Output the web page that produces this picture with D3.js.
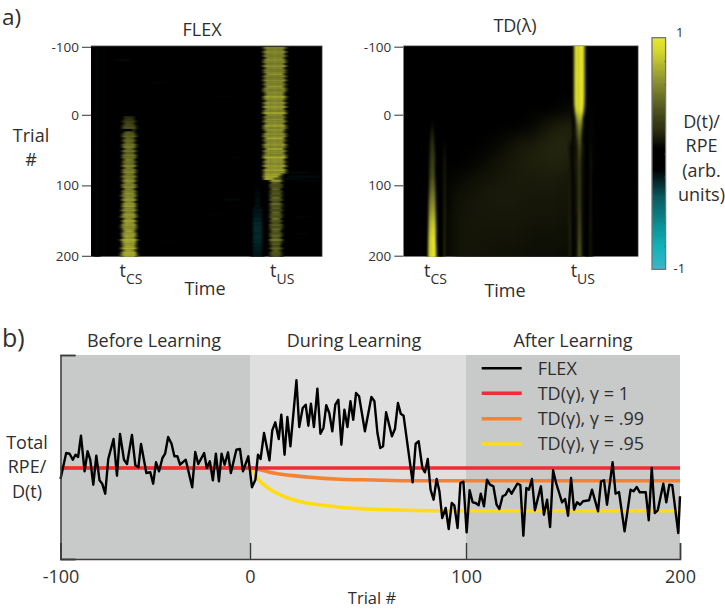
<!DOCTYPE html>
<html><head><meta charset="utf-8">
<script src="https://cdn.jsdelivr.net/npm/d3@7"></script>
<style>
html,body{margin:0;padding:0;background:#fff}
svg{display:block}
text{font-family:"Open Sans","Noto Sans",sans-serif;fill:#2f2e2e}
</style></head><body><svg id="c" width="725" height="611"></svg>
<script>
// ---------- panel b: total RPE traces ----------
const flexTrials=[-100,-97,-95.2,-93.5,-92.1,-90.7,-89.2,-87.3,-85.7,-84.3,-82.7,-81.1,-79.4,-78,-76.4,-74.8,-72,-70.2,-68.6,-66.5,-64.9,-62.3,-60.5,-58.9,-57.5,-54.7,-52.6,-51.1,-49.6,-48,-46.2,-44.8,-43.2,-41.4,-39.9,-38.3,-36.9,-33.9,-30.5,-28.9,-27.3,-24.2,-22.8,-21.2,-19.6,-18,-16.4,-15,-13.4,-11.6,-10.1,-7.2,-5.3,-3.7,-0.9,
0.9,2.5,3.7,4.9,6.5,9,10.3,11.7,13.3,14.5,16,17.3,18.7,21.5,22.8,24.4,25.8,27,28.2,29.6,31.2,32.6,34,35.3,36.7,38.1,39.5,40.9,42.3,43.7,45.1,46.5,47.8,49.1,50.5,53.2,56.2,57.6,59,60.3,61.6,63,65.7,67.1,68.5,69.8,71.1,75.3,76.7,78.1,79.8,81,82.3,83.6,85,86.4,87.7,89,90.6,92,93.4,94.6,96.1,97.4,98.8,100.3,101.7,103.1,104.5,105.9,
106.9,108.4,109.8,111.2,112.8,114.3,115.6,117.1,118.5,119.9,121.3,124,125.4,126.8,128.2,129.4,130.8,132.2,135,136.4,137.9,139.3,140.7,142.1,144.9,146.3,147.7,149.1,150.5,151.9,153.3,154.7,157.5,158.9,161.7,163.1,164.5,165.9,168.5,169.9,171.5,174.1,176.9,178.3,179.8,181.2,184,185.4,186.8,188.2,189.6,192.2,193.6,195,196.4,199.2,200];
const flexValues=[-11,15,14.3,8.3,13.3,11,32.3,-3.3,16.7,8.3,-16.7,12.3,-12.3,-15.7,-25.7,9,29,-7.7,34,8.3,4,33,2.7,0.7,24,-5,-4.3,-15.7,5.7,-3.3,10,14.3,31,24.3,11.7,11.7,3.3,8.3,-19.3,16,4,15,0,6.7,-12.3,14.3,-13.3,14.3,3.3,15.7,-5,18.3,19,-3.3,11.7,
-19.3,-11.7,13.3,9,35,7.7,37.7,45.7,29,53.3,13.3,51,21.7,87.7,41,60,63.3,42.3,64.3,41,79.3,34.3,40,62.7,55,36.7,63.3,68.3,23.3,58.3,41,66.7,48.3,75,71.7,36.7,71,66.7,35,20,21.7,55.7,31.7,39,65,54.3,52.3,-14.3,24.3,26.7,0,-4.3,9,-21.7,-31.7,-11,-23.3,-50,-40,-61,-35,-37.3,-60,-15,-13.7,-64.3,-22.3,-34.3,-35,-37.3,
-25.7,-38.3,-11.7,-16.7,-18.3,-36.7,-41,-28.3,-26.7,-21,-25.7,-15.7,-17,-67.7,-20,-21.7,-11,-42.3,-18.3,-46.7,-31.7,-59,-2.3,-15,-34.3,-31,-47.7,-10,-41.7,-34.3,-36.7,-33.3,-32.3,-21.7,-43.3,-13.3,-12.3,-36.7,5.7,-25.7,-24,-63.3,-21.7,-23.3,-19,-24.3,-24.3,-52.3,0,-45,-42.3,-15.7,-34.3,-16.7,-17.3,-65,-28.3];
const redTrials=[-100,200], redValues=[0,0];
const orangeTrials=[-100,0,10.8,26.2,41.7,57.1,72.5,200], orangeValues=[0,0,-5,-9,-11.3,-12,-12.7,-12.7];
const yellowTrials=[-100,0,4.6,10.8,18.5,26.2,34,41.7,57.1,72.5,88,200], yellowValues=[0,0,-13.3,-23.3,-30.7,-35,-37.3,-39.3,-41.3,-42.3,-42.7,-42.7];
const phaseNames=["Before Learning","During Learning","After Learning"];
const phaseBounds=[[-100,0],[0,100],[100,200]];
const legendLabels=["FLEX","TD(γ), γ = 1","TD(γ), γ = .99","TD(γ), γ = .95"];
const legendColors=["#000000","#ee2d37","#f58233","#ffdc14"];
const trialTicks=[-100,0,100,200];

// ---------- panel a, FLEX heat map: one value per row (3 trial steps) ----------
const flexRows=d3.range(-100,201,3);
const usAmp=[.58,.56,.6,.58,.55,.58,.62,.58,.56,.65,.6,.57,.6,.67,.58,.56,.63,.6,.58,.67,.6,.56,.62,.58,.7,.62,.58,.64,.6,.67,.62,.58,.72,.62,.58,.64,.62,.6,.69,.58,.64,.6,.65,.62,.74,.6,.62,.65,.58,.69,.62,.64,.6,.76,.64,.65,.6,.67,.64,.72,.64,.67,.69,.76,.67,
.42,.36,.38,.46,.36,.42,.34,.46,.4,.36,.48,.38,.42,.36,.46,.42,.38,.5,.4,.36,.44,.38,.48,.42,.38,.46,.4,.52,.38,.42,.36,.46,.44,.4,.38,.36];
const usCutTrials=[83,86,89], usCutCenter=[78.6,77.8,77], usCutHalf=[4.7,3.9,3];
const csRows=d3.range(2,201,3);
const csAmp=[.2,.26,.3,.34,.34,.38,.38,.42,.42,.46,.44,.5,.46,.5,.54,.48,.52,.46,.54,.5,.56,.52,.5,.58,.54,.56,.62,.54,.58,.56,.64,.58,.56,.62,.6,.58,.66,.6,.62,.66,.6,.64,.68,.62,.66,.6,.68,.64,.62,.7,.66,.68,.64,.68,.72,.66,.7,.66,.74,.7,.68,.72,.76,.7,.74,.72,.72];
const dipRows=d3.range(98,201,3);
const dipAmp=[.13,.14,.15,.15,.17,.16,.17,.18,.17,.17,.19,.17,.19,.19,.2,.2,.22,.21,.24,.23,.25,.25,.25,.23,.24,.25,.23,.24,.22,.22,.21,.21,.19,.19,.19];
const rowJitter=[.2,-.3,.5,-.1,.3,-.5,.1,.4,-.2,.6,-.4,.2,.1,-.6,.4,-.1,.5,-.3,.2,-.5,.3,.6,-.2,-.4,.4,.1,-.6,.3,-.1,.5,-.3,.2,.6,-.5,.1,-.2,.4,-.4,.3,.5,-.1,-.5,.2,.6,-.3,.1,-.4,.5,.2,-.6,.3,-.2,.4,.6,-.4,.1,-.1,.5,-.5,.3,.2,-.3,.6,-.2,.1,
-.4,.5,.3,-.6,.2,-.1,.6,-.3,.4,-.5,.1,.3,-.2,.5,-.4,.2,.6,-.6,.1,-.3,.4,.5,-.2,-.5,.3,.1,-.4,.6,.2,-.1,-.3,.4,-.6,.3,.5,-.2];
const flexStreakTrial=[80,86,89,92,119,128,143,167,179,-82,-49,-28,20,59,140];
const flexStreakFrom=[86,85,84,88,58,60,88,88,30,11,26,54,12,60,50];
const flexStreakTo=[94,98,92,98,64,66,95,94,38,16,32,60,18,66,56];
const flexStreakValue=[-.15,-.16,-.15,-.14,-.15,-.14,-.14,-.14,-.14,-.15,-.14,-.14,-.14,-.14,-.14];

// ---------- panel a, TD(lambda) heat map: one value per row (10 trial steps) ----------
const tdRows=d3.range(-110,220,10);
const tdUsAmp=[1,1,1,1,1,1,1,1,1,1,.98,.78,.62,.52,.44,.38,.34,.32,.3,.3,.3,.3,.3,.31,.32,.34,.35,.36,.38,.4,.41,.42,.42];
const tdUsHalf=[2,2,2,2,2,2,2,2,2,1.9,1.6,1.2,.95,.8,.7,.6,.55,.5,.5,.5,.5,.5,.5,.5,.5,.52,.55,.55,.55,.58,.6,.6,.6];
const tdCsAmp=[0,0,0,0,0,0,0,0,0,0,0,.04,.1,.16,.2,.24,.27,.3,.33,.36,.42,.48,.56,.62,.7,.78,.86,.92,1,1,1,1,1];
const tdCsHalf=[1,1,1,1,1,1,1,1,1,1,1,.4,.5,.6,.7,.8,.9,.95,1,1.05,1.1,1.15,1.2,1.25,1.3,1.35,1.4,1.45,1.5,1.55,1.6,1.6,1.6];
const tdSideAmp=[0,0,0,0,0,0,0,0,0,0,0,0,0,0,0,.1,.12,.14,.15,.16,.16,.17,.17,.18,.18,.18,.19,.19,.2,.2,.2,.2,.2];
const tdCsCenter=12.3, tdUsCenter=74.9, tdSideCenters=[70.9,79.7,17.5];
const washTrials=[-20,5,30,55,80,105,130,155,180,205];
const washTimes=[20,28,36,44,52,60,68];
const washValues=[
[0,0,0,0,0,0,.08],
[0,0,0,0,.08,.15,.17],
[0,0,.07,.12,.15,.18,.17],
[.02,.07,.11,.14,.16,.17,.16],
[.08,.11,.13,.14,.14,.14,.13],
[.11,.13,.14,.14,.13,.13,.12],
[.12,.13,.13,.13,.12,.12,.11],
[.12,.12,.12,.12,.11,.11,.1],
[.12,.12,.11,.11,.1,.1,.09],
[.12,.11,.11,.1,.09,.08,.07]];
const heatTicks=[-100,0,100,200];
const colorStops=[-1,-.93,-.8,-.66,-.37,-.13,.05,.2,.34,.63,.89,1];
const colorValues=["#4cb6cd","#2cb4c4","#12b3b8","#0a9a9f","#0a5a60","#000000","#000000","#2a2c10","#45481a","#8c9030","#d4d62e","#e8e62c"];

// ---------- drawing ----------
const svg=d3.select("#c");
const color=d3.scaleLinear().domain(colorStops).range(colorValues).clamp(true);
const defs=svg.append("defs");
function blur(id,sd){defs.append("filter").attr("id",id).attr("x","-10%").attr("y","-10%").attr("width","120%").attr("height","120%")
  .attr("color-interpolation-filters","sRGB")
  .append("feGaussianBlur").attr("stdDeviation",sd);}
blur("bFlex","1 0.55"); blur("bTd","0.9 2.4"); blur("bWash","8");

const band=(t,c,half,soft,amp)=>amp*Math.max(0,Math.min(1,(half-Math.abs(t-c))/soft));

function heatFrame(x0,x1,y0,y1,name){
  const xT=d3.scaleLinear([0,100],[x0,x1]);
  const yT=d3.scaleLinear(heatTicks,[y0+1,y0+69,y0+139.6,y0+210]);
  defs.append("clipPath").attr("id",name).append("rect").attr("x",x0).attr("y",y0).attr("width",x1-x0).attr("height",y1-y0);
  const g=svg.append("g").attr("clip-path",`url(#${name})`);
  g.append("rect").attr("x",x0).attr("y",y0).attr("width",x1-x0).attr("height",y1-y0).attr("fill","#000");
  return {xT,yT,g};
}
function drawCells(g,cells,xT,yT,filter){
  g.append("g").attr("filter",`url(#${filter})`).selectAll("rect").data(cells).join("rect")
    .attr("x",d=>xT(d.t)).attr("width",d=>xT(d.t+d.w)-xT(d.t)+.3)
    .attr("y",d=>yT(d.r)).attr("height",d=>Math.abs(yT(d.r+d.h)-yT(d.r))+.3)
    .attr("fill",d=>color(d.v));
}
function frameDecor(x0,x1,y0,y1,yT){
  svg.append("path").attr("d",`M${x0},${y0}H${x1}V${y1}`).attr("fill","none").attr("stroke","#8a8a8a").attr("stroke-width",.8);
  const ax=svg.append("g").attr("transform",`translate(${x0},0)`)
    .call(d3.axisLeft(yT).tickValues(heatTicks).tickSize(9).tickPadding(3).tickFormat(String));
  ax.select(".domain").remove();
  ax.selectAll("line").attr("stroke","#444").attr("stroke-width",1.1);
  ax.selectAll("text").attr("font-size",13.5).style("fill","#333");
}

// FLEX
{
  const x0=91,x1=322.3,y0=45.8,y1=256.8;
  const {xT,yT,g}=heatFrame(x0,x1,y0,y1,"clipFlex");
  const cells=[];
  const bins=d3.range(0,100,1);
  flexRows.forEach((r,i)=>{
    const j=rowJitter[i]||0, cut=usCutTrials.indexOf(r);
    const ca=csAmp[csRows.indexOf(r)]||0, da=dipAmp[dipRows.indexOf(r)]||0;
    bins.forEach(t=>{
      const tc=t+.5;
      const cs=band(tc,16.45,3.4+j*.9+(r/200)*.6,1.8,ca);
      let us=0;
      if(r<=80) us=band(tc,79.4,5.5+j,1.8,usAmp[i]);
      else if(cut>=0) us=Math.max(band(tc,usCutCenter[cut],usCutHalf[cut]+j*.3,1.3,.72),band(tc,79.9,3.1,1.2,.4));
      else us=band(tc,79.9,3.2+j*.7-Math.max(0,r-170)*.012,1.4,usAmp[i]);
      const dip=-band(tc,72,r<130?1.8:2.6,1,da);
      const edge=-band(tc,2.5,1.5,.8,.15);
      const v=cs||us||dip||edge;
      if(v) cells.push({t,w:1,r,h:3,v});
    });
  });
  flexStreakTrial.forEach((r,i)=>{
    d3.range(flexStreakFrom[i],flexStreakTo[i],2).forEach(t=>cells.push({t,w:2,r,h:3,v:flexStreakValue[i]}));
  });
  drawCells(g,cells,xT,yT,"bFlex");
  frameDecor(x0,x1,y0,y1,yT);
}
// TD
{
  const x0=403.3,x1=638.3,y0=45.7,y1=256.7;
  const {xT,yT,g}=heatFrame(x0,x1,y0,y1,"clipTd");
  const wash=[];
  washTrials.forEach((r,i)=>washTimes.forEach((t,k)=>{
    wash.push({t,w:8,r,h:25,v:washValues[i][k]});
  }));
  drawCells(g,wash,xT,yT,"bWash");
  const cells=[];
  // a black gutter either side of the bands
  tdRows.forEach((r,i)=>{ if(r>=-10) [[71.9,72.6],[77.2,78.7],[14.8,16.6]].forEach(([a,b])=>cells.push({t:a,w:b-a,r,h:10,v:0})); });
  tdRows.forEach((r,i)=>{
    d3.range(0,100,.5).forEach(t=>{
      const tc=t+.25;
      const us=band(tc,tdUsCenter,tdUsHalf[i]+.7,.9,tdUsAmp[i]);
      const cs=band(tc,tdCsCenter,tdCsHalf[i]+.5,.7,tdCsAmp[i]);
      let side=0;
      tdSideCenters.forEach(c=>{side=Math.max(side,band(tc,c,.6,.4,tdSideAmp[i]));});
      const v=us||cs||side;
      if(v>.02) cells.push({t,w:.5,r,h:10,v});
    });
  });
  drawCells(g,cells,xT,yT,"bTd");
  frameDecor(x0,x1,y0,y1,yT);
}
// colour bar
{
  const yC=d3.scaleLinear([-1,1],[269.3,37.7]);
  svg.append("g").attr("shape-rendering","crispEdges").selectAll("rect").data(d3.range(-1,1,.01)).join("rect")
    .attr("x",652).attr("width",13.6).attr("y",d=>yC(d+.01)).attr("height",d=>yC(d)-yC(d+.01)+1).attr("fill",d=>color(d+.005));
  svg.append("rect").attr("x",652).attr("y",37.7).attr("width",13.6).attr("height",231.6).attr("fill","none").attr("stroke","#6f7676").attr("stroke-width",1.3);
  const ca=svg.append("g").attr("transform","translate(665.5,0)")
    .call(d3.axisLeft(yC).tickValues(d3.range(-.8,1,.2)).tickSize(1.5).tickFormat(""));
  ca.select(".domain").remove(); ca.selectAll("line").attr("stroke","#555").attr("stroke-width",.6);
}

// Panel b
const xB=d3.scaleLinear(trialTicks,[60.5,250,466,680]);
const yB=d3.scaleLinear([-91,113],[559,355]);
svg.append("g").selectAll("rect").data(phaseBounds).join("rect")
  .attr("x",d=>xB(d[0])).attr("width",d=>xB(d[1])-xB(d[0])).attr("y",yB(113)).attr("height",yB(-91)-yB(113))
  .attr("fill",(d,i)=>i===1?"#dfdfdf":"#c8c9c9");
const lineOf=(curve)=>d3.line().x(d=>xB(d[0])).y(d=>yB(d[1])).curve(curve);
const pairs=(a,b)=>a.map((t,i)=>[t,b[i]]);
[[yellowTrials,yellowValues,3],[orangeTrials,orangeValues,2],[redTrials,redValues,1]].forEach(([a,b,k])=>{
  svg.append("path").attr("d",lineOf(d3.curveMonotoneX)(pairs(a,b))).attr("fill","none").attr("stroke",legendColors[k]).attr("stroke-width",3.6);
});
svg.append("path").attr("d",lineOf(d3.curveLinear)(pairs(flexTrials,flexValues))).attr("fill","none").attr("stroke","#000").attr("stroke-width",2.4).attr("stroke-linejoin","round");
const axB=svg.append("g").attr("transform",`translate(0,${yB(-91)})`)
  .call(d3.axisBottom(xB).tickValues(trialTicks).tickSize(-16).tickPadding(11).tickFormat(String));
axB.select(".domain").attr("stroke","#3c3c3c").attr("stroke-width",1.5);
axB.selectAll("line").attr("stroke","#3c3c3c").attr("stroke-width",1.4);
axB.selectAll("text").attr("font-size",18).style("fill","#333");
const ayB=svg.append("g").attr("transform",`translate(${xB(-100)},0)`)
  .call(d3.axisLeft(yB).tickValues([-91,113]).tickSize(-15).tickFormat(""));
ayB.select(".domain").attr("stroke","#3c3c3c").attr("stroke-width",1.5);
ayB.selectAll("line").attr("stroke","#3c3c3c").attr("stroke-width",1.5);

// Legend
legendLabels.forEach((l,i)=>{
  const y=[368.3,393.3,418.7,444][i];
  svg.append("line").attr("x1",481.7).attr("x2",521.7).attr("y1",y).attr("y2",y).attr("stroke",legendColors[i]).attr("stroke-width",i?3.4:2.6);
  svg.append("text").attr("x",537.7).attr("y",[375,400,425,449.5][i]).attr("font-size",18).text(l);
});

// Text
function T(x,y,s,size,anchor){return svg.append("text").attr("x",x).attr("y",y).attr("font-size",size).attr("text-anchor",anchor||"middle").text(s);}
T(2,24.5,"a)",22.5,"start"); T(2,347,"b)",25,"start");
T(202,35.7,"FLEX",18); T(515,31.7,"TD(λ)",18);
T(31,141.7,"Trial",18); T(31,165.7,"#",18);
function sub(x,y,s){
  const t=svg.append("text").attr("x",x).attr("y",y).attr("font-size",18);
  t.append("tspan").text("t");
  t.append("tspan").attr("dy",7.5).attr("font-size",14).text(s);
}
sub(119.5,276.7,"CS"); sub(270,276.7,"US"); sub(424,276.7,"CS"); sub(570.7,276.7,"US");
T(205,295,"Time",18); T(505,296.7,"Time",18);
T(676,37,"1",13,"start"); T(673.5,273,"-1",13,"start");
[["D(t)/",128],["RPE",152],["(arb.",177],["units)",201]].forEach(d=>T(701.5,d[1],d[0],18));
phaseNames.forEach((n,i)=>T([154,354,573][i],347,n,18));
[["Total",449],["RPE/",472.7],["D(t)",497.7]].forEach(d=>T(27,d[1],d[0],18));
T(372,604,"Trial #",16.5);
</script></body></html>
